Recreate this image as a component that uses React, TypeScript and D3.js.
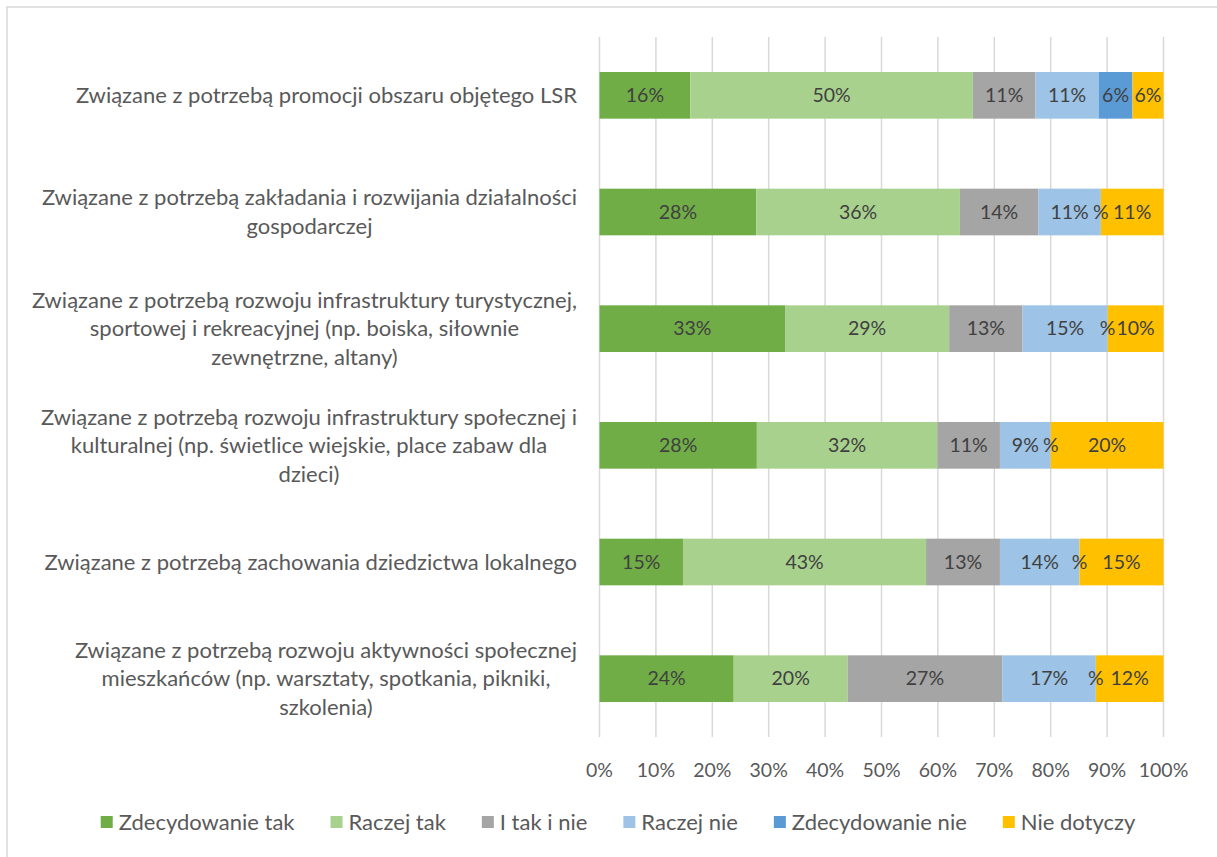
import React, { useEffect, useRef } from 'react';
import * as d3 from 'd3';

// categories, each one split into the lines shown in the chart
const categories: string[][] = [
  ['Związane z potrzebą promocji obszaru objętego LSR'],
  ['Związane z potrzebą zakładania i rozwijania działalności', 'gospodarczej'],
  ['Związane z potrzebą rozwoju infrastruktury turystycznej,', 'sportowej i rekreacyjnej (np. boiska, siłownie', 'zewnętrzne, altany)'],
  ['Związane z potrzebą rozwoju infrastruktury społecznej i', 'kulturalnej (np. świetlice wiejskie, place zabaw dla', 'dzieci)'],
  ['Związane z potrzebą zachowania dziedzictwa lokalnego'],
  ['Związane z potrzebą rozwoju aktywności społecznej', 'mieszkańców (np. warsztaty, spotkania, pikniki,', 'szkolenia)'],
];

const seriesNames = ['Zdecydowanie tak', 'Raczej tak', 'I tak i nie', 'Raczej nie', 'Zdecydowanie nie', 'Nie dotyczy'];
const seriesColors = ['#70AD47', '#A9D18E', '#A5A5A5', '#9DC3E6', '#5B9BD5', '#FFC000'];

// values in percent, one per category
const zdecydowanieTak = [16.1, 27.8, 32.9, 27.9, 14.8, 23.8];
const raczejTak = [50.1, 36.1, 29.1, 32.0, 43.1, 20.2];
const takINie = [11.1, 13.9, 13.0, 11.1, 13.1, 27.4];
const raczejNie = [11.2, 11.1, 15.1, 9.0, 14.1, 16.6];
const zdecydowanieNie = [6.0, 0, 0, 0, 0, 0];
const nieDotyczy = [5.5, 11.1, 9.9, 20.0, 14.9, 12.0];

const xTicks = [0, 10, 20, 30, 40, 50, 60, 70, 80, 90, 100];

const W = 1217;
const H = 857;
const FONT = 'Lato, "Open Sans", sans-serif';
const FS_NUM = 19.5; // numbers: ticks and data labels
const FS_TXT = 22;   // words: categories and legend

function Chart() {
  const ref = useRef<SVGSVGElement | null>(null);

  useEffect(() => {
    const svg = d3.select(ref.current);
    svg.selectAll('*').remove();

    const allSeries = [zdecydowanieTak, raczejTak, takINie, raczejNie, zdecydowanieNie, nieDotyczy];
    const table = categories.map((c, i) => {
      const row: any = { idx: i };
      seriesNames.forEach((s, j) => { row[s] = allSeries[j][i]; });
      return row;
    });
    const stacked = d3.stack<any>().keys(seriesNames)(table);

    const x = d3.scaleLinear().domain([0, 100]).range([599.5, 1163.5]);
    const y = d3.scaleBand<number>()
      .domain(categories.map((_, i) => i))
      .range([37, 737])
      .paddingInner(0.6)
      .paddingOuter(0.3);

    // chart border
    svg.append('rect')
      .attr('x', 7).attr('y', 7)
      .attr('width', W + 20).attr('height', H + 20)
      .attr('fill', '#fff')
      .attr('stroke', '#D9D9D9')
      .attr('stroke-width', 1.5);

    // grid
    svg.append('g').selectAll('line').data(xTicks).enter()
      .append('line')
        .attr('x1', d => x(d)).attr('x2', d => x(d))
        .attr('y1', 37).attr('y2', 737)
        .attr('stroke', '#D9D9D9')
        .attr('stroke-width', 1.5);

    // tick labels
    svg.append('g').selectAll('text').data(xTicks).enter()
      .append('text')
        .attr('x', d => x(d))
        .attr('y', 777)
        .attr('text-anchor', 'middle')
        .attr('font-family', FONT)
        .attr('font-size', FS_NUM)
        .attr('fill', '#595959')
        .text(d => d + '%');

    // bars
    const layers = svg.append('g').selectAll('g').data(stacked).enter()
      .append('g')
        .attr('fill', (_, i) => seriesColors[i]);
    layers.selectAll('rect').data(d => d).enter()
      .append('rect')
        .attr('x', d => x(d[0]))
        .attr('y', d => y(d.data.idx)!)
        .attr('width', d => x(d[1]) - x(d[0]))
        .attr('height', y.bandwidth());

    // data labels
    const labels = svg.append('g').selectAll('g').data(stacked).enter().append('g');
    labels.selectAll('text').data(d => d.map(p => ({ p, key: d.key }))).enter()
      .append('text')
        .attr('x', d => x((d.p[0] + d.p[1]) / 2))
        .attr('y', d => y(d.p.data.idx)! + y.bandwidth() / 2)
        .attr('dy', '0.35em')
        .attr('text-anchor', 'middle')
        .attr('font-family', FONT)
        .attr('font-size', FS_NUM)
        .attr('fill', '#404040')
        .text(d => {
          const v = Math.round(d.p[1] - d.p[0]);
          return v === 0 ? '%' : v + '%';
        });

    // category labels: lines centred on each other, block right-aligned
    const lineH = 28.5;
    const rightEdge = 577;
    categories.forEach((lines, i) => {
      const cy = y(i)! + y.bandwidth() / 2;
      const g = svg.append('g');
      const texts = lines.map((ln, k) =>
        g.append('text')
          .attr('y', cy + (k - (lines.length - 1) / 2) * lineH)
          .attr('dy', '0.35em')
          .attr('text-anchor', 'middle')
          .attr('font-family', FONT)
          .attr('font-size', FS_TXT)
          .attr('fill', '#595959')
          .text(ln)
      );
      const widths = texts.map(t => (t.node() as SVGTextElement).getComputedTextLength());
      const cx = rightEdge - d3.max(widths)! / 2;
      texts.forEach(t => t.attr('x', cx));
    });

    // legend, centred under the chart
    const legend = svg.append('g');
    const items = seriesNames.map((s, i) => {
      const t = legend.append('text')
        .attr('y', 822)
        .attr('dy', '0.35em')
        .attr('font-family', FONT)
        .attr('font-size', FS_TXT)
        .attr('fill', '#595959')
        .text(s);
      const r = legend.append('rect')
        .attr('width', 12).attr('height', 12)
        .attr('y', 816)
        .attr('fill', seriesColors[i]);
      return { t, r, w: (t.node() as SVGTextElement).getComputedTextLength() };
    });
    const gap = 36;
    const total = d3.sum(items, d => 12 + 6 + d.w) + gap * (items.length - 1);
    let cur = 618 - total / 2;
    items.forEach(it => {
      it.r.attr('x', cur);
      it.t.attr('x', cur + 18);
      cur += 18 + it.w + gap;
    });
  }, []);

  return (
    <svg
      ref={ref}
      width={W}
      height={H}
      style={{ position: 'absolute', left: 0, top: 0, background: '#fff' }}
    />
  );
}

export default function App() {
  return <Chart />;
}
